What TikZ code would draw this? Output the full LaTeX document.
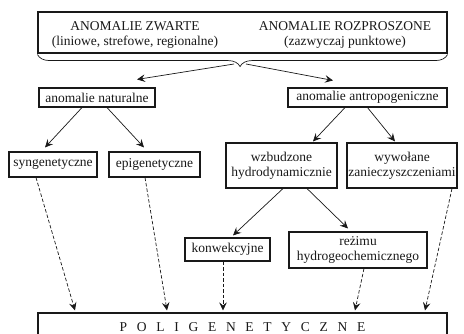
\documentclass[tikz,border=0pt]{standalone}
\usepackage{fontspec}
\setmainfont{Liberation Serif}
\usepackage{tikz}
\usetikzlibrary{positioning,arrows.meta,decorations.pathreplacing}
\definecolor{anInk}{RGB}{25,25,25}
\tikzset{
    base/.style={font=\fontsize{13.5}{14.8}\selectfont, align=center, text=anInk},
    box/.style={base, rectangle, draw=anInk, line width=1.1pt, fill=white,
                inner xsep=1pt, inner ysep=1pt},
    plain/.style={base, inner sep=0pt},
    flow/.style={-{Stealth[length=8pt,width=7.5pt,inset=3pt]}, line width=0.7pt, color=anInk},
    trace/.style={flow, dash pattern=on 3.5pt off 2pt},
    bracket/.style={decorate, decoration={brace, amplitude=12pt, mirror, aspect=0.494},
                    line width=0.7pt, color=anInk}
}
\begin{document}
\begin{tikzpicture}[x=1pt, y=-1pt]
  \useasboundingbox (0,0) rectangle (464,333);

  % Top frame with both groups
  \node[box, minimum width=409pt, minimum height=41pt] (top) at (242.5,32.5) {};
  \node[plain] (zwarte) at (135,35) {ANOMALIE ZWARTE\\(liniowe, strefowe, regionalne)};
  \node[plain] (rozpr) at (345,35) {ANOMALIE ROZPROSZONE\\(zazwyczaj punktowe)};
  \draw[bracket] ([yshift=-1pt]top.south west) -- ([yshift=-1pt]top.south east);
  \coordinate (notchL) at (234,64);
  \coordinate (notchR) at (246,64);

  % First level
  \node[box, minimum width=116pt, minimum height=19pt] (nat) at (97,97.5) {anomalie naturalne};
  \node[box, minimum width=159pt, minimum height=19pt] (ant) at (367.5,97.5) {anomalie antropogeniczne};

  \draw[flow] (notchL) -- ([xshift=40pt,yshift=8pt]nat.north);
  \draw[flow] (notchR) -- ([xshift=-34.5pt,yshift=7pt]ant.north);

  % Second level
  \node[box, minimum width=88pt, minimum height=25pt] (syn) at (53,164.5) {syngenetyczne};
  \node[box, minimum width=91pt, minimum height=25pt] (epi) at (154.5,164.5) {epigenetyczne};
  \node[box, minimum width=111pt, minimum height=45pt] (wzb) at (281.5,165.5) {wzbudzone\\hydrodynamicznie};
  \node[box, minimum width=110pt, minimum height=45pt] (wyw) at (402,165.5) {wywołane\\zanieczyszczeniami};

  \draw[flow] ([xshift=-15pt]nat.south) -- ([xshift=-8pt,yshift=4pt]syn.north);
  \draw[flow] ([xshift=10pt]nat.south) -- ([xshift=-10.5pt,yshift=4pt]epi.north);
  \draw[flow] ([xshift=-22.5pt]ant.south) -- ([xshift=31.5pt,yshift=1pt]wzb.north);
  \draw[flow] (ant.south) -- ([xshift=-7pt,yshift=1pt]wyw.north);

  % Third level
  \node[box, minimum width=85pt, minimum height=23pt] (kon) at (227.5,249.5) {konwekcyjne};
  \node[box, minimum width=138pt, minimum height=36pt] (rez) at (358,250) {reżimu\\hydrogeochemicznego};

  \draw[flow] ([xshift=1.5pt]wzb.south) -- ([xshift=5.5pt,yshift=2pt]kon.north);
  \draw[flow] ([xshift=25.5pt]wzb.south) -- ([xshift=-10pt,yshift=3pt]rez.north);

  % Common result
  \node[box, minimum width=409pt, minimum height=28pt] (pol) at (242.5,327)
    {\spaceskip=0.72em P O L I G E N E T Y C Z N E};

  \draw[trace] ([xshift=-17pt]syn.south) -- ([xshift=-167.5pt,yshift=2pt]pol.north);
  \draw[trace] ([xshift=-9.5pt]epi.south) -- ([xshift=-75.5pt,yshift=2pt]pol.north);
  \draw[trace] ([xshift=-4.5pt]kon.south) -- ([xshift=-19.5pt,yshift=2pt]pol.north);
  \draw[trace] ([xshift=6pt]rez.south) -- ([xshift=112.5pt,yshift=2pt]pol.north);
  \draw[trace] ([xshift=50pt]wyw.south) -- ([xshift=182.5pt,yshift=2pt]pol.north);
\end{tikzpicture}
\end{document}
